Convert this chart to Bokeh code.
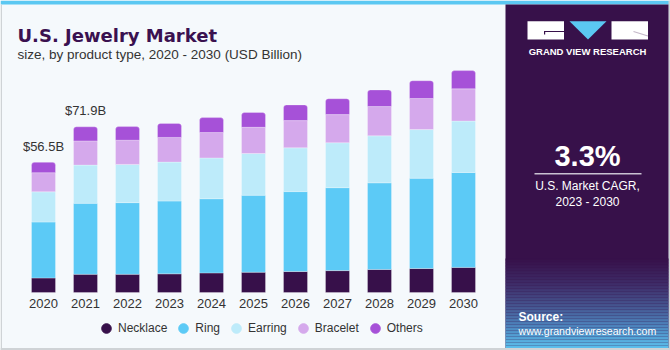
import numpy as np
from bokeh.plotting import figure
from bokeh.models import (ColumnDataSource, Range1d, Label, BoxAnnotation,
                          PolyAnnotation, Legend, LegendItem)
from bokeh.core.properties import value
from bokeh.embed import file_html
from bokeh.resources import INLINE

# ---------------- data ----------------
years = [2020, 2021, 2022, 2023, 2024, 2025, 2026, 2027, 2028, 2029, 2030]
necklace = [6.3, 7.9, 7.9, 8.1, 8.5, 8.8, 9.1, 9.5, 10.0, 10.4, 10.9]
ring = [24.3, 30.8, 31.1, 31.6, 32.2, 33.4, 34.7, 36.0, 37.6, 39.2, 41.2]
earring = [13.1, 16.6, 16.6, 16.9, 17.7, 18.1, 19.0, 19.5, 20.4, 21.1, 22.3]
bracelet = [8.3, 10.5, 10.5, 10.7, 11.0, 11.4, 11.8, 12.2, 12.7, 13.5, 14.0]
others = [4.5, 6.1, 5.9, 6.1, 6.5, 6.4, 6.8, 6.9, 7.2, 7.7, 7.9]
segments = ["Necklace", "Ring", "Earring", "Bracelet", "Others"]
callout_years = [2020, 2021]
callout_labels = ["$56.5B", "$71.9B"]
title_text = "U.S. Jewelry Market"
subtitle_text = "size, by product type, 2020 - 2030 (USD Billion)"
cagr_value = "3.3%"
cagr_lines = ["U.S. Market CAGR,", "2023 - 2030"]
brand = "GRAND VIEW RESEARCH"
source_lines = ["Source:", "www.grandviewresearch.com"]

# ---------------- style / layout ----------------
colors = ["#37104a", "#5ccaf6", "#bdebfa", "#d5a9ec", "#a651d8"]
BG = "#f5f9fc"
PANEL = "#37114a"
W, H = 670, 350
PX_PER_YEAR = 42.0
X0_PX = 43.0
BASE_PX = 292.0
UNITS_PER_PX = 0.434
FONT = "Liberation Sans"

x_start = years[0] - X0_PX / PX_PER_YEAR
y_start = -(H - BASE_PX) * UNITS_PER_PX

p = figure(width=W, height=H, output_backend="svg", toolbar_location=None,
           x_range=Range1d(x_start, x_start + W / PX_PER_YEAR),
           y_range=Range1d(y_start, y_start + H * UNITS_PER_PX),
           x_axis_type=None, y_axis_type=None, min_border=0,
           outline_line_color=None, background_fill_color=BG,
           border_fill_color=BG)


def sy(px_from_top):
    return H - px_from_top


def box(l, r, t, b, color, alpha=1.0):
    p.add_layout(BoxAnnotation(left=l, right=r, top=sy(t), bottom=sy(b),
                               left_units="screen", right_units="screen",
                               top_units="screen", bottom_units="screen",
                               fill_color=color, fill_alpha=alpha,
                               line_color=None, level="underlay"))


# ---------------- bars ----------------
data = dict(year=years, Necklace=necklace, Ring=ring, Earring=earring,
            Bracelet=bracelet, Others=others)
src = ColumnDataSource(data)
rs = p.vbar_stack(segments, x="year", width=24 / PX_PER_YEAR, source=src,
                  fill_color=colors, line_color="white", line_alpha=0.35,
                  line_width=0.8)
try:
    rs[-1].glyph.border_radius = (3, 3, 0, 0)
except Exception:
    pass

# year labels
ysrc = ColumnDataSource(dict(year=years, label=[str(y) for y in years]))
p.text(x="year", y=0, text="label", source=ysrc, text_align="center",
       text_baseline="middle", y_offset=11, text_font=value(FONT),
       text_font_size="13px", text_color="#333333")

# callouts
totals = np.sum([necklace, ring, earring, bracelet, others], axis=0)
csrc = ColumnDataSource(dict(
    year=callout_years,
    total=[float(totals[years.index(y)]) for y in callout_years],
    label=callout_labels))
p.text(x="year", y="total", text="label", source=csrc, text_align="center",
       text_baseline="middle", y_offset=-16, text_font=value(FONT),
       text_font_size="13px", text_color="#333333")

# legend
items = []
for s, c in zip(segments, colors):
    r = p.scatter(x=[float("nan")], y=[float("nan")], marker="circle",
                  fill_color=c, line_color=c, size=10)
    items.append(LegendItem(label=s, renderers=[r]))
legend = Legend(items=items, orientation="horizontal", location=(94, 10),
                glyph_width=24, glyph_height=24, label_standoff=-2, spacing=4,
                padding=0, margin=0, border_line_color=None,
                background_fill_alpha=0, label_text_font=FONT,
                label_text_font_size="12px", label_text_color="#333333",
                label_height=24)
p.add_layout(legend)

# ---------------- decoration ----------------
box(0, W, 0, 4, "#5bc8f2")
box(0, 1.5, 4, H, "#cfd3d6")
box(668, W, 0, H, "#cfd3d6")
box(0, W, 347.5, H, "#cfd3d6")
box(505, 668, 4, 347.5, PANEL)

stops = [(258, (0x37, 0x11, 0x4a)), (283, (0x3e, 0x2c, 0x68)),
         (305, (0x45, 0x55, 0x8f)), (325, (0x4d, 0x84, 0xbd)),
         (347.5, (0x5c, 0xc2, 0xee))]
yy = 258.0
while yy < 347.5:
    for (a, ca), (b, cb) in zip(stops[:-1], stops[1:]):
        if a <= yy < b:
            t = (yy - a) / (b - a)
            col = tuple(int(round(ca[i] + (cb[i] - ca[i]) * t)) for i in range(3))
            break
    box(505, 668, yy, min(yy + 1.6, 347.5), "#%02x%02x%02x" % col)
    yy += 1.5

# logo
box(527, 563.5, 20.7, 39, "white")
box(611, 647.5, 20.7, 39, "white")
box(543.5, 563.5, 30.4, 31.6, PANEL)
box(543.5, 544.7, 30.4, 34, PANEL)
p.add_layout(PolyAnnotation(xs=[569, 606, 587.5], ys=[sy(20.7), sy(20.7), sy(39)],
                            xs_units="screen", ys_units="screen",
                            fill_color="#5bc8f2", fill_alpha=1, line_color=None))
p.add_layout(PolyAnnotation(xs=[633, 647.5], ys=[sy(31), sy(35.5)],
                            xs_units="screen", ys_units="screen",
                            fill_alpha=0, line_color=PANEL, line_width=1.2))
box(534, 641, 172.6, 174, "#c9c2d2")


def label(x, y, text, size, color, bold=False, align="left", baseline="middle",
          font=FONT):
    p.add_layout(Label(x=x, y=sy(y), x_units="screen", y_units="screen",
                       text=text, text_font=font, text_font_size=size,
                       text_font_style="bold" if bold else "normal",
                       text_color=color, text_align=align,
                       text_baseline=baseline, level="overlay"))


label(17, 35, title_text, "18px", "#3a1150", bold=True,
      baseline="alphabetic", font="DejaVu Sans")
label(17, 53.5, subtitle_text, "13.5px", "#333333", baseline="alphabetic")
label(587, 51, brand, "9.5px", "white", bold=True, align="center")
label(587, 155, cagr_value, "29px", "white", bold=True, align="center")
label(587, 185, cagr_lines[0], "12px", "white", align="center")
label(587, 201, cagr_lines[1], "12px", "white", align="center")
label(518, 316, source_lines[0], "12px", "white", bold=True)
label(518, 330, source_lines[1], "10.6px", "white")

open("out.html", "w").write(file_html(p, INLINE))
